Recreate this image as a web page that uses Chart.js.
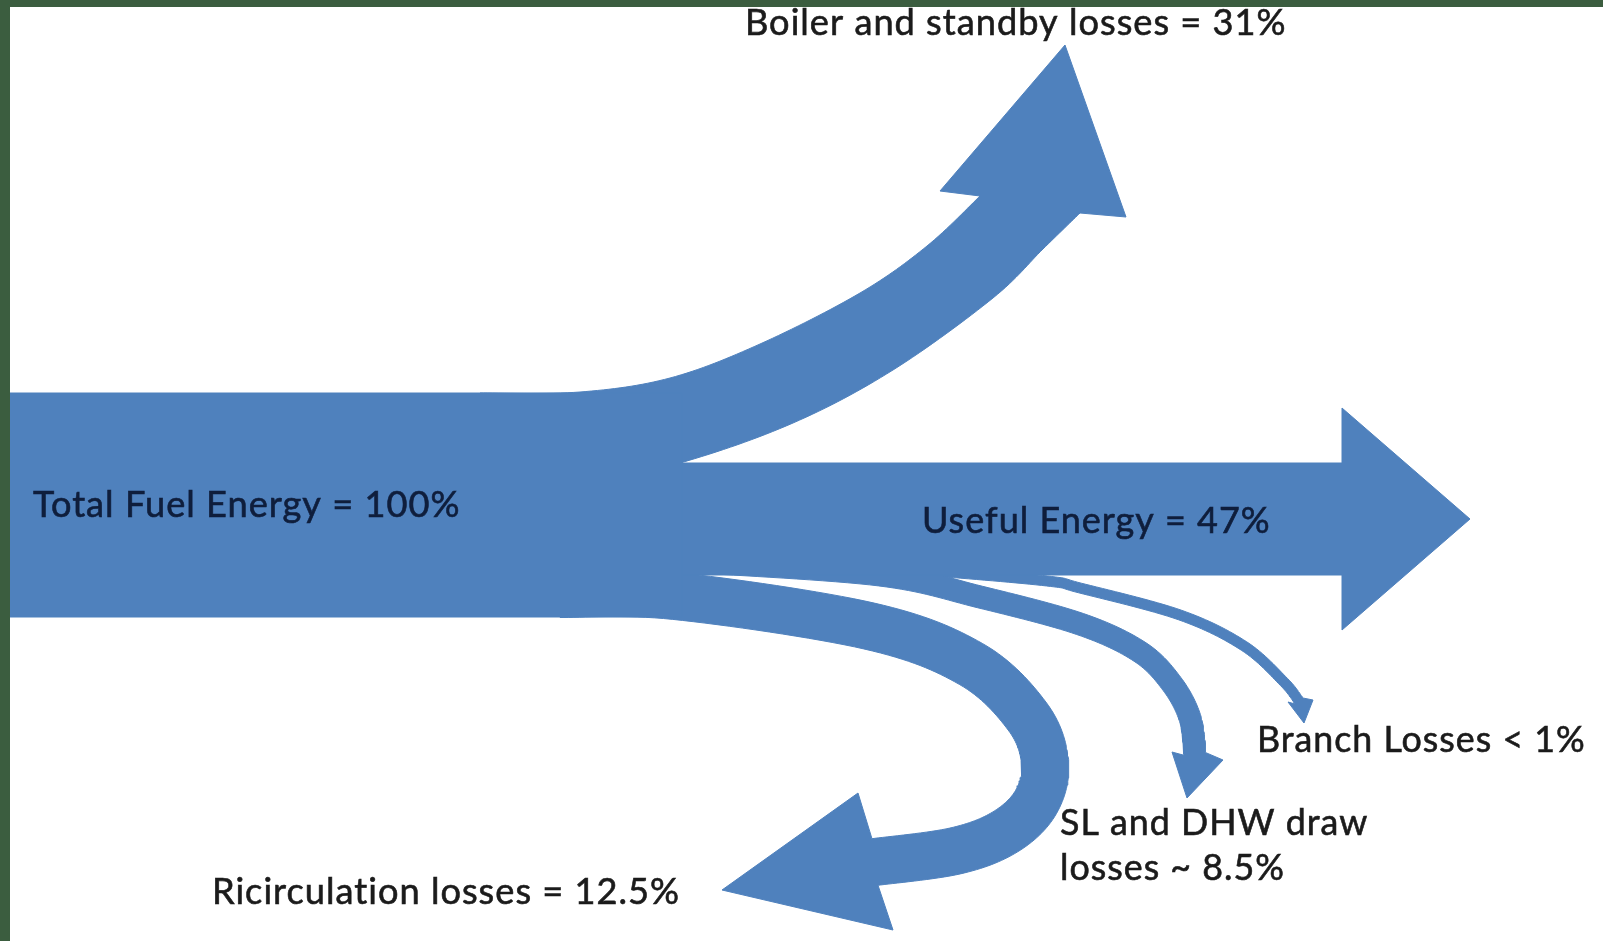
<!DOCTYPE html>
<html>
<head>
<meta charset="utf-8">
<script src="https://cdn.jsdelivr.net/npm/chart.js@4/dist/chart.umd.min.js"></script>
<style>
  html, body { margin: 0; padding: 0; background: #3b5d3f; overflow: hidden; }
  #frame { position: absolute; left: 10px; top: 7px; width: 1593px; height: 934px; background: #ffffff; }
</style>
</head>
<body>
<div id="frame"><canvas id="flow-chart"></canvas></div>
<script>
/* Flow values (percent of total fuel energy) */
let flowNames = ['Total Fuel Energy', 'Boiler and standby losses', 'Useful Energy',
                 'Ricirculation losses', 'SL and DHW draw losses', 'Branch Losses']
let flowValues = [100, 31, 47, 12.5, 8.5, 1]
let flowRelations = ['=', '=', '=', '=', '~', '<']

let arrowBlue = '#4f81bd'
let textDark = '#1b1b1b'
let textOnBlue = '#0f1e3c'

/* Straight arrows and the widening boiler arrow: outlines in diagram units
   (x to the right, y downwards). 'curve' runs are smoothed, 'line' runs keep corners */
let blockArrows = [
    // trunk
    [ {line: [[10, 393], [682, 393], [682, 617], [10, 617]]} ],
    // boiler and standby
    [ {curve: [[480, 393], [580, 392], [670, 378], [760, 344], [860, 293], [927, 246], [980, 196]]},
      {line: [[940, 191], [1065, 45], [1126, 217], [1080, 213]]},
      {curve: [[1080, 213], [1043, 249], [993, 298], [893, 370], [793, 423], [680, 463], [560, 490]]} ],
    // useful energy
    [ {line: [[670, 463], [1342, 463], [1342, 408], [1470, 519], [1342, 630], [1342, 575], [670, 575]]} ]
]

/* Curved loss arrows: centre line, band width and head corners */
let bentArrows = [
    // ricirculation
    {route: [[560, 594], [675, 596], [869, 626], [971, 664], [1027, 716], [1045, 762], [1036, 802],
             [1005, 832], [955, 851], [875, 862]],
     width: 47, head: [[858, 793], [722, 890], [893, 930]]},
    // SL and DHW draw
    {route: [[700, 562], [880, 575], [980, 597], [1080, 624], [1140, 652], [1172, 684], [1190, 718], [1195, 754]],
     width: 22, head: [[1172, 752], [1187, 798], [1223, 760]]},
    // branch
    {route: [[850, 566], [933, 571], [1047, 581], [1080, 588], [1180, 615], [1244, 646], [1284, 682], [1299, 701]],
     width: 10, head: [[1288, 702], [1304, 723], [1313, 700]]}
]

/* Where each label sits (left edge, baseline, width of first line) */
let labelSpots = [
    {x: 33, y: 517, width: 427, color: textOnBlue},
    {x: 745, y: 35, width: 541, color: textDark},
    {x: 922, y: 533, width: 348, color: textOnBlue},
    {x: 212, y: 904, width: 468, color: textDark},
    {x: 1060, y: 835, width: 307, color: textDark, breakAfter: 4, lineGap: 45},
    {x: 1257, y: 752, width: 328, color: textDark}
]

let letterGap = 1

/* Catmull-Rom smoothing through the given points */
function smoothCurve(pts, steps) {
    let out = []
    for (let i = 0; i < pts.length - 1; i++) {
        let p0 = pts[Math.max(i - 1, 0)], p1 = pts[i], p2 = pts[i + 1], p3 = pts[Math.min(i + 2, pts.length - 1)]
        for (let s = 0; s < steps; s++) {
            let t = s / steps, t2 = t * t, t3 = t2 * t
            let c = (k) => 0.5 * ((2 * p1[k]) + (-p0[k] + p2[k]) * t +
                (2 * p0[k] - 5 * p1[k] + 4 * p2[k] - p3[k]) * t2 +
                (-p0[k] + 3 * p1[k] - 3 * p2[k] + p3[k]) * t3)
            out.push({x: c(0), y: c(1)})
        }
    }
    let last = pts[pts.length - 1]
    out.push({x: last[0], y: last[1]})
    return out
}

function blockPoints(outline) {
    let pts = []
    outline.forEach(function(run) {
        if (run.curve) {
            pts = pts.concat(smoothCurve(run.curve, 16))
        } else {
            run.line.forEach(p => pts.push({x: p[0], y: p[1]}))
        }
    })
    return pts
}

/* Band of constant width along a smoothed centre line, closed by the head */
function bentPoints(arrow) {
    let mid = smoothCurve(arrow.route, 16)
    let sideA = [], sideB = []
    mid.forEach(function(p, i) {
        let a = mid[Math.max(i - 1, 0)], b = mid[Math.min(i + 1, mid.length - 1)]
        let dx = b.x - a.x, dy = b.y - a.y
        let len = Math.hypot(dx, dy) || 1
        let nx = -dy / len * arrow.width / 2, ny = dx / len * arrow.width / 2
        sideA.push({x: p.x + nx, y: p.y + ny})
        sideB.push({x: p.x - nx, y: p.y - ny})
    })
    let head = arrow.head.map(p => ({x: p[0], y: p[1]}))
    return sideA.concat(head, sideB.reverse())
}

function labelText(i) {
    return flowNames[i] + ' ' + flowRelations[i] + ' ' + flowValues[i] + '%'
}

/* Draws the flow labels on top of the arrows */
let flowLabelPlugin = {
    id: 'flowLabels',
    afterDatasetsDraw(chart) {
        let ctx = chart.ctx
        let xs = chart.scales.x, ys = chart.scales.y
        ctx.save()
        ctx.textBaseline = 'alphabetic'
        ctx.textAlign = 'left'
        labelSpots.forEach(function(spot, i) {
            let words = labelText(i).split(' ')
            let lines = [words.join(' ')]
            if (spot.breakAfter) {
                lines = [words.slice(0, spot.breakAfter).join(' '), words.slice(spot.breakAfter).join(' ')]
            }
            // pick the size that makes the first line as wide as in the picture
            ctx.letterSpacing = '0px'
            ctx.font = '30px Lato'
            let natural = ctx.measureText(lines[0]).width
            let size = 30 * (spot.width - letterGap * (lines[0].length - 1)) / natural
            ctx.font = size.toFixed(1) + 'px Lato'
            ctx.letterSpacing = letterGap + 'px'
            ctx.fillStyle = spot.color
            ctx.strokeStyle = spot.color
            ctx.lineWidth = 0.6
            lines.forEach(function(line, n) {
                let px = xs.getPixelForValue(spot.x)
                let py = ys.getPixelForValue(spot.y + n * (spot.lineGap || 0))
                ctx.fillText(line, px, py)
                ctx.strokeText(line, px, py)
            })
        })
        ctx.restore()
    }
}

let shapes = blockArrows.map(blockPoints).concat(bentArrows.map(bentPoints))

let ctx = document.querySelector('#flow-chart').getContext('2d')

let flowChart = new Chart(ctx, {
    type: 'scatter',
    data: {
        datasets: shapes.map(function(points, i) {
            return {
                label: flowNames[i],
                data: points,
                showLine: true,
                fill: 'shape',
                backgroundColor: arrowBlue,
                borderColor: arrowBlue,
                borderWidth: 1,
                pointRadius: 0,
                pointHoverRadius: 0,
                tension: 0
            }
        })
    },
    options: {
        responsive: true,
        maintainAspectRatio: false,
        animation: false,
        layout: { padding: 0 },
        scales: {
            x: { type: 'linear', min: 10, max: 1603, display: false },
            y: { type: 'linear', min: 7, max: 941, reverse: true, display: false }
        },
        plugins: {
            legend: { display: false },
            tooltip: { enabled: false }
        }
    },
    plugins: [flowLabelPlugin]
})
</script>
</body>
</html>
